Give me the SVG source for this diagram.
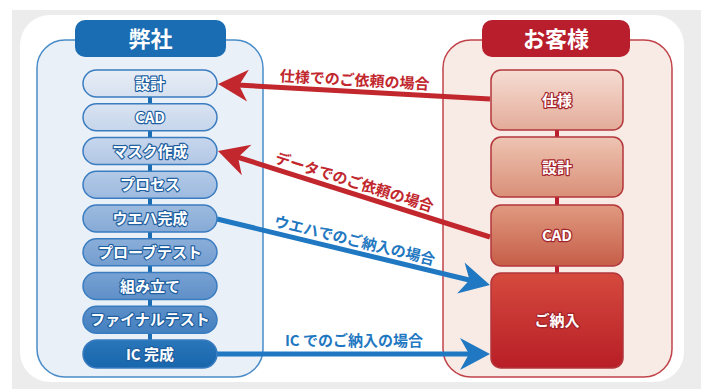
<svg xmlns="http://www.w3.org/2000/svg" width="701" height="389" viewBox="0 0 701 389">
<defs>
<style>
.t{font-family:"Noto Sans CJK JP","Noto Sans",sans-serif;font-weight:bold;text-anchor:middle}
.title{font-size:22px;fill:#fff}
.ln{font-size:15px;fill:#fff;stroke:#1f5f9f;stroke-width:2.4;paint-order:stroke;stroke-linejoin:round}
.rn{font-size:15px;fill:#fff;stroke:#a3232b;stroke-width:2.4;paint-order:stroke;stroke-linejoin:round}
.lnode{stroke:#3a7cc0;stroke-width:1.5}
.rnode{stroke:#b3363b;stroke-width:1.5}
.lblr{font-size:15px;fill:#c1272d;stroke:#fff;stroke-width:2;paint-order:stroke}
.lblb{font-size:15px;fill:#1f78c1;stroke:#fff;stroke-width:2;paint-order:stroke}
.ar{stroke:#c1272d;stroke-width:5;fill:none}
.ab{stroke:#1f78c1;stroke-width:5;fill:none}
</style>
<marker id="mr" viewBox="-16 -17 32 34" refX="0" refY="0" markerWidth="32" markerHeight="34" markerUnits="userSpaceOnUse" orient="auto">
<path d="M15,0 L-15,-16 L-6,0 L-15,16 Z" fill="#c1272d"/>
</marker>
<marker id="mb" viewBox="-16 -17 32 34" refX="0" refY="0" markerWidth="32" markerHeight="34" markerUnits="userSpaceOnUse" orient="auto">
<path d="M15,0 L-15,-16 L-6,0 L-15,16 Z" fill="#1f78c1"/>
</marker>
<linearGradient id="g1" x1="0" y1="0" x2="0" y2="1"><stop offset="0" stop-color="#e8eef7"/><stop offset="1" stop-color="#d6e0ef"/></linearGradient>
<linearGradient id="g2" x1="0" y1="0" x2="0" y2="1"><stop offset="0" stop-color="#d9e3f2"/><stop offset="1" stop-color="#c6d5eb"/></linearGradient>
<linearGradient id="g3" x1="0" y1="0" x2="0" y2="1"><stop offset="0" stop-color="#c7d6ed"/><stop offset="1" stop-color="#b2c7e5"/></linearGradient>
<linearGradient id="g4" x1="0" y1="0" x2="0" y2="1"><stop offset="0" stop-color="#b3c9e7"/><stop offset="1" stop-color="#9dbadf"/></linearGradient>
<linearGradient id="g5" x1="0" y1="0" x2="0" y2="1"><stop offset="0" stop-color="#9dbbdf"/><stop offset="1" stop-color="#86aad6"/></linearGradient>
<linearGradient id="g6" x1="0" y1="0" x2="0" y2="1"><stop offset="0" stop-color="#8aaed9"/><stop offset="1" stop-color="#739dd0"/></linearGradient>
<linearGradient id="g7" x1="0" y1="0" x2="0" y2="1"><stop offset="0" stop-color="#77a1d3"/><stop offset="1" stop-color="#5f90c8"/></linearGradient>
<linearGradient id="g8" x1="0" y1="0" x2="0" y2="1"><stop offset="0" stop-color="#5c8fc9"/><stop offset="1" stop-color="#4480c0"/></linearGradient>
<linearGradient id="g9" x1="0" y1="0" x2="0" y2="1"><stop offset="0" stop-color="#2a76ba"/><stop offset="1" stop-color="#1766ac"/></linearGradient>
<linearGradient id="r1" x1="0" y1="0" x2="0" y2="1"><stop offset="0" stop-color="#f6ddd3"/><stop offset="1" stop-color="#e3ab99"/></linearGradient>
<linearGradient id="r2" x1="0" y1="0" x2="0" y2="1"><stop offset="0" stop-color="#eec4b2"/><stop offset="1" stop-color="#d98f78"/></linearGradient>
<linearGradient id="r3" x1="0" y1="0" x2="0" y2="1"><stop offset="0" stop-color="#e09a80"/><stop offset="1" stop-color="#c65d48"/></linearGradient>
<linearGradient id="r4" x1="0" y1="0" x2="0" y2="1"><stop offset="0" stop-color="#d54a3e"/><stop offset="1" stop-color="#b81e26"/></linearGradient>
</defs>
<rect x="0" y="0" width="701" height="389" fill="#ffffff"/>
<rect x="12" y="10" width="689" height="379" fill="#ececec"/>
<rect x="20" y="15" width="664" height="367" rx="30" fill="#ffffff"/>

<g id="company">
<rect x="37" y="40" width="226" height="337" rx="28" fill="#e9f0f8" stroke="#4a8cc8" stroke-width="1.5"/>
<rect x="75" y="20" width="151" height="37" rx="10" fill="#1a6db2"/>
<text class="t title" x="150.5" y="46.5">弊社</text>
</g>
<g id="customer">
<rect x="443" y="40" width="229" height="337" rx="28" fill="#f8ebe6" stroke="#c0434a" stroke-width="1.5"/>
<rect x="482" y="20" width="148" height="37" rx="10" fill="#b81e2c"/>
<text class="t title" x="556" y="46.5">お客様</text>
</g>

<g id="connectors">
<line x1="150" y1="97" x2="150" y2="341" stroke="#1a6db2" stroke-width="4"/>
<line x1="557" y1="129" x2="557" y2="274" stroke="#b81e2c" stroke-width="4"/>
<line class="ar" x1="490" y1="99" x2="233" y2="84.8" marker-end="url(#mr)"/>
<line class="ar" x1="490" y1="237" x2="232.3" y2="155.5" marker-end="url(#mr)"/>
<line class="ab" x1="217" y1="219" x2="475.4" y2="281.5" marker-end="url(#mb)"/>
<line class="ab" x1="217" y1="354" x2="475" y2="354" marker-end="url(#mb)"/>
<text class="t lblr" transform="translate(354,91.5) rotate(3.16)" x="0" y="-6">仕様でのご依頼の場合</text>
<text class="t lblr" transform="translate(351,193) rotate(17.5)" x="0" y="-6">データでのご依頼の場合</text>
<text class="t lblb" transform="translate(352,251.6) rotate(13.6)" x="0" y="-6">ウエハでのご納入の場合</text>
<text class="t lblb" x="354" y="346">IC でのご納入の場合</text>
</g>

<g id="l1"><rect class="lnode" x="83" y="70" width="134" height="27" rx="13.5" fill="url(#g1)"/><text class="t ln" x="150" y="89">設計</text></g>
<g id="l2"><rect class="lnode" x="83" y="103.75" width="134" height="27" rx="13.5" fill="url(#g2)"/><text class="t ln" x="150" y="122.75">CAD</text></g>
<g id="l3"><rect class="lnode" x="83" y="137.5" width="134" height="27" rx="13.5" fill="url(#g3)"/><text class="t ln" x="150" y="156.5">マスク作成</text></g>
<g id="l4"><rect class="lnode" x="83" y="171.25" width="134" height="27" rx="13.5" fill="url(#g4)"/><text class="t ln" x="150" y="190.25">プロセス</text></g>
<g id="l5"><rect class="lnode" x="83" y="205" width="134" height="27" rx="13.5" fill="url(#g5)"/><text class="t ln" x="150" y="224">ウエハ完成</text></g>
<g id="l6"><rect class="lnode" x="83" y="238.75" width="134" height="27" rx="13.5" fill="url(#g6)"/><text class="t ln" x="150" y="257.75">プローブテスト</text></g>
<g id="l7"><rect class="lnode" x="83" y="272.5" width="134" height="27" rx="13.5" fill="url(#g7)"/><text class="t ln" x="150" y="291.5">組み立て</text></g>
<g id="l8"><rect class="lnode" x="83" y="306.25" width="134" height="27" rx="13.5" fill="url(#g8)"/><text class="t ln" x="150" y="325.25">ファイナルテスト</text></g>
<g id="l9"><rect class="lnode" x="83" y="340" width="134" height="28" rx="14" fill="url(#g9)"/><text class="t ln" x="150" y="359.5">IC 完成</text></g>

<g id="r_spec"><rect class="rnode" x="491" y="70" width="132" height="60" rx="10" fill="url(#r1)"/><text class="t rn" x="557" y="105.5">仕様</text></g>
<g id="r_design"><rect class="rnode" x="491" y="137" width="132" height="60" rx="10" fill="url(#r2)"/><text class="t rn" x="557" y="172.5">設計</text></g>
<g id="r_cad"><rect class="rnode" x="491" y="205" width="132" height="61" rx="10" fill="url(#r3)"/><text class="t rn" x="557" y="241">CAD</text></g>
<g id="r_delivery"><rect class="rnode" x="491" y="273" width="132" height="95" rx="10" fill="url(#r4)"/><text class="t rn" x="557" y="326">ご納入</text></g>
</svg>
